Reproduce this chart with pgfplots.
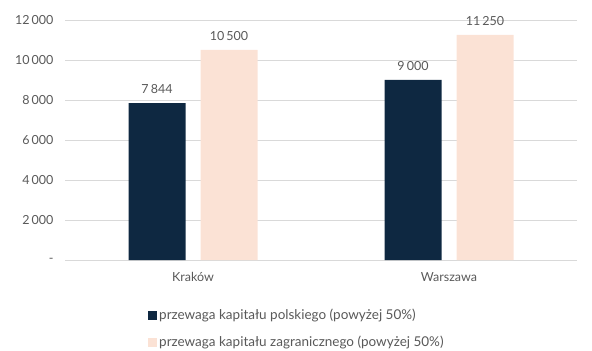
\documentclass[border=0pt]{standalone}
\usepackage{pgfplots}
\pgfplotsset{compat=1.18}
\usepackage{fontspec}
\setmainfont{Lato}
\definecolor{navy}{HTML}{0E2841}
\definecolor{peach}{HTML}{FBE2D5}
\definecolor{txt}{HTML}{595959}
\definecolor{gridc}{HTML}{D9D9D9}
\begin{document}
\begin{tikzpicture}
\useasboundingbox (-65bp,-91bp) rectangle (527bp,260bp);
\begin{axis}[
  at={(0,0)}, anchor=south west,
  scale only axis, width=512bp, height=240bp,
  xmin=-0.5, xmax=1.5, ymin=0, ymax=12000,
  ybar=15bp, bar width=57bp,
  scaled y ticks=false,
  xtick={0,1}, xticklabels={Kraków,Warszawa},
  ytick={0,2000,4000,6000,8000,10000,12000},
  yticklabels={-,2\,000,4\,000,6\,000,8\,000,10\,000,12\,000},
  axis line style={draw=none},
  major tick length=0pt,
  ymajorgrids, xmajorgrids=false, grid style={draw=gridc, line width=0.75bp},
  tick label style={font=\fontsize{12.5bp}{14bp}\selectfont, text=txt},
  yticklabel style={xshift=-8bp},
  xticklabel style={yshift=-9bp},
  nodes near coords,
  nodes near coords style={font=\fontsize{12.5bp}{14bp}\selectfont, text=txt, yshift=6bp},
  /pgf/number format/.cd, 1000 sep={\,}, assume math mode=true,
  /pgfplots/.cd,
  legend style={at={(0,0)}, anchor=north west, xshift=80bp, yshift=-45bp,
    draw=none, font=\fontsize{13.5bp}{15bp}\selectfont, text=txt,
    row sep=11bp, cells={anchor=west}},
  legend cell align=left,
  legend image code/.code={\fill[#1] (0bp,-4.5bp) rectangle (9bp,4.5bp);},
]
\addplot[fill=navy, draw=none] coordinates {(0,7844) (1,9000)};
\addplot[fill=peach, draw=none] coordinates {(0,10500) (1,11250)};
\legend{przewaga kapitału polskiego (powyżej 50\%), przewaga kapitału zagranicznego (powyżej 50\%)}
\end{axis}
\end{tikzpicture}
\end{document}
